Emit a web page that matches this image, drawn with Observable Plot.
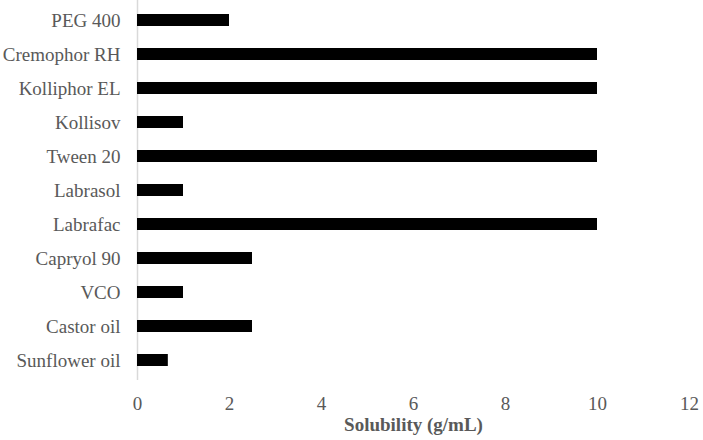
<!DOCTYPE html>
<html>
<head>
<meta charset="utf-8">
<script src="https://cdn.jsdelivr.net/npm/d3@7"></script>
<script src="https://cdn.jsdelivr.net/npm/@observablehq/plot@0.6"></script>
<style>
  html, body { margin: 0; padding: 0; background: #fff; }
  svg { font-family: "Liberation Serif", "Times New Roman", serif; }
</style>
</head>
<body>
<div id="chart"></div>
<script>
const categories = ["PEG 400", "Cremophor RH", "Kolliphor EL", "Kollisov", "Tween 20", "Labrasol", "Labrafac", "Capryol 90", "VCO", "Castor oil", "Sunflower oil"];
const solubility = [2, 10, 10, 1, 10, 1, 10, 2.5, 1, 2.5, 0.67];
const xTicks = [0, 2, 4, 6, 8, 10, 12];

const data = categories.map((c, i) => ({category: c, value: solubility[i]}));

const chart = Plot.plot({
  width: 703,
  height: 440,
  marginLeft: 137,
  marginRight: 14,
  marginTop: 0,
  marginBottom: 60,
  style: {fontFamily: "'Liberation Serif', 'Times New Roman', serif", fontSize: "19px", color: "#595959", background: "#fff"},
  x: {domain: [0, 12], ticks: xTicks, label: null},
  y: {domain: categories, paddingInner: 0.643, paddingOuter: 0.325, label: null},
  marks: [
    Plot.ruleX([0], {stroke: "#d9d9d9", strokeWidth: 1.5}),
    Plot.barX(data, {y: "category", x: "value", fill: "#000"}),
    Plot.axisX({ticks: xTicks, tickSize: 0, tickPadding: 16, fontSize: 19, fill: "#595959", label: null}),
    Plot.axisY({tickSize: 0, tickPadding: 17, fontSize: 19, fill: "#595959", label: null}),
    Plot.text(["Solubility (g/mL)"], {frameAnchor: "bottom", dy: 50, fontWeight: "bold", fontSize: 19, fill: "#595959"})
  ]
});
document.getElementById("chart").appendChild(chart);
</script>
</body>
</html>
